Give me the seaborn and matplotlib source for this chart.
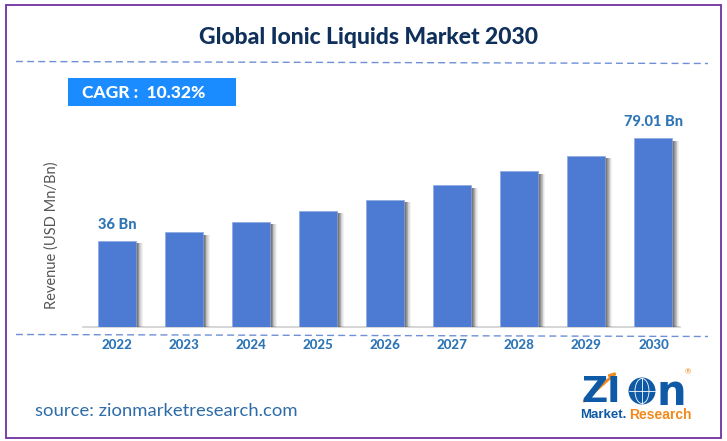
import matplotlib
matplotlib.use("Agg")
import matplotlib.pyplot as plt
import matplotlib.patheffects as pe
from matplotlib.patches import Rectangle, Ellipse, FancyArrowPatch
from matplotlib.lines import Line2D
import seaborn as sns
import pandas as pd

years = ["2022","2023","2024","2025","2026","2027","2028","2029","2030"]
revenue = [36.0,39.7,44.0,48.5,53.3,59.3,65.1,71.6,79.01]
first_label = "36 Bn"
last_label = "79.01 Bn"
title = "Global Ionic Liquids Market 2030"
cagr = "CAGR :  10.32%"
ylabel = "Revenue (USD Mn/Bn)"
source = "source: zionmarketresearch.com"

W, H = 727, 441
sns.set_theme(style="white")
plt.rcParams['font.family'] = ['Lato', 'DejaVu Sans']
fig = plt.figure(figsize=(W/100, H/100), dpi=100, facecolor="white")
def fx(p): return p/W
def fy(p): return 1-p/H

ax = fig.add_axes([fx(83), fy(327), fx(680-83), 189/H])
df = pd.DataFrame({"year": years, "revenue": revenue})
sns.barplot(data=df, x="year", y="revenue", color="#4d7bd3", saturation=1, width=0.567, ax=ax, zorder=3)
shadow = [pe.SimplePatchShadow(offset=(d,-1.8), shadow_rgbFace="#000000", alpha=a)
          for d,a in ((4.8,0.05),(4.2,0.06),(3.6,0.07),(3.0,0.09),(2.4,0.11),(1.8,0.14),(1.2,0.17),(0.6,0.2))]
for b in ax.patches:
    b.set_edgecolor("#8aa8e2"); b.set_linewidth(0.5)
    b.set_path_effects(shadow + [pe.Normal()])
ax.set_xlim(-0.507, 8.396)
ax.set_ylim(0, 79.01)
sns.despine(ax=ax, left=True, top=True, right=True)
ax.spines["bottom"].set_color("#d0d0d0"); ax.spines["bottom"].set_linewidth(1.2)
ax.set_xlabel(""); ax.set_ylabel("")
ax.set_yticks([])
ax.tick_params(axis="x", length=0, pad=8.5)
for t in ax.get_xticklabels():
    t.set_fontsize(9.5); t.set_fontweight(900); t.set_color("#2e75b6")
ax.patch.set_alpha(0)
ax.annotate(first_label, (0, revenue[0]), xytext=(0,6.5), textcoords="offset points", ha="center", va="bottom",
            fontsize=10.5, fontweight=900, color="#2e75b6")
ax.annotate(last_label, (8, revenue[-1]), xytext=(0,6.5), textcoords="offset points", ha="center", va="bottom",
            fontsize=10.5, fontweight=900, color="#2e75b6")

# frame, title, rules
fig.add_artist(Rectangle((fx(5.5), fy(438)), fx(715), 433/H, fill=False, ec="#7030a0", lw=1.3))
fig.text(fx(368), fy(37), title, ha="center", va="center", fontsize=16.5, fontweight=900, color="#10305c")
for y0,y1 in ((61.5,63.5),(334.5,336.5)):
    fig.add_artist(Line2D([fx(16),fx(708)],[fy(y0),fy(y1)], color="#6f90d6", lw=1, ls=(0,(5,3))))
fig.add_artist(Rectangle((fx(68), fy(105.5)), fx(168), 27.5/H, fc="#1a8cff", ec="none"))
fig.text(fx(82), fy(92.5), cagr, ha="left", va="center", fontsize=12.5, fontweight=900, color="white")
fig.text(fx(52), fy(235), ylabel, rotation=90, ha="center", va="center", fontsize=10.5, color="#555555")
fig.text(fx(35), fy(411), source, ha="left", va="center", fontsize=13.3, color="#2e6ca8")

# logo
blue="#0f5aa6"; orange="#f08a1d"
logo = "DejaVu Sans"
fig.text(fx(581), fy(392.5), "Z", fontsize=26, fontweight="bold", color=blue, ha="left", va="center", family=logo)
fig.text(fx(607), fy(392.5), "I", fontsize=26, fontweight="bold", color=blue, ha="left", va="center", family=logo)
fig.add_artist(Ellipse((fx(642), fy(391)), 27/W, 27/H, fc=blue, ec="none"))
fig.add_artist(Ellipse((fx(642), fy(391)), 14/W, 25/H, fc="none", ec="white", lw=0.6))
fig.add_artist(Line2D([fx(629),fx(655)],[fy(391),fy(391)], color="white", lw=0.6))
fig.add_artist(Line2D([fx(642),fx(642)],[fy(378),fy(404)], color="white", lw=0.6))
fig.text(fx(657), fy(393), "n", fontsize=30, fontweight="bold", color=blue, ha="left", va="center", family=logo)
fig.add_artist(FancyArrowPatch((fx(582),fy(403)),(fx(619),fy(370)), transform=fig.transFigure,
                               arrowstyle="-|>", mutation_scale=9, color=orange, lw=2))
fig.text(fx(688), fy(372), "®", fontsize=5.5, color=orange, ha="center", va="center")
fig.text(fx(580), fy(415), "Market.", fontsize=9.5, fontweight="bold", color=blue, ha="left", va="center", family="Liberation Sans")
fig.text(fx(629), fy(415), "Research", fontsize=10, fontweight="bold", color=orange, ha="left", va="center", family="Liberation Sans")
fig.savefig("out.png", dpi=100)
